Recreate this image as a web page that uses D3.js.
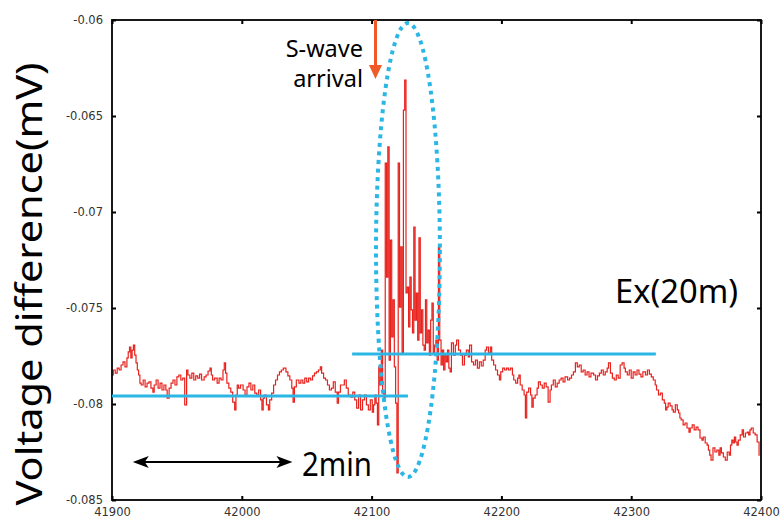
<!DOCTYPE html>
<html>
<head>
<meta charset="utf-8">
<script src="https://cdn.jsdelivr.net/npm/d3@7"></script>
<style>
	body { margin: 0; background: #fff; }
	svg { display: block; }
</style>
</head>
<body>
<script>
// axis ticks
var xTicks = [41900, 42000, 42100, 42200, 42300, 42400];
var xTickLabels = ["41900", "42000", "42100", "42200", "42300", "42400"];
var yTicks = [-0.06, -0.065, -0.07, -0.075, -0.08, -0.085];
var yTickLabels = ["-0.06", "-0.065", "-0.07", "-0.075", "-0.08", "-0.085"];

// Ex(20m) voltage difference [time (s), mV]
var preEvent = [
	[41900,-0.07849],[41902,-0.07823],[41903,-0.07839],[41905,-0.07813],[41906,-0.07823],[41908,-0.07797],[41909,-0.07781],[41911,-0.07807],
	[41912,-0.07760],[41913,-0.07729],[41914,-0.07703],[41915,-0.07760],[41916,-0.07719],[41917,-0.07693],[41918,-0.07745],[41919,-0.07786],
	[41920,-0.07823],[41921,-0.07849],[41922,-0.07891],[41923,-0.07901],[41925,-0.07875],[41926,-0.07911],[41928,-0.07891],[41929,-0.07885],
	[41931,-0.07917],[41932,-0.07938],[41933,-0.07901],[41935,-0.07875],[41936,-0.07917],[41938,-0.07891],[41939,-0.07927],[41941,-0.07901],
	[41942,-0.07927],[41943,-0.07969],[41945,-0.07917],[41946,-0.07891],[41948,-0.07875],[41949,-0.07901],[41951,-0.07859],[41952,-0.07849],
	[41954,-0.07875],[41955,-0.07865],[41957,-0.08005],[41958,-0.07823],[41959,-0.07849],[41961,-0.07865],[41962,-0.07839],[41964,-0.07875],
	[41965,-0.07854],[41967,-0.07865],[41968,-0.07844],[41970,-0.07875],[41972,-0.07859],[41973,-0.07849],[41975,-0.07828],[41976,-0.07813],
	[41977,-0.07849],[41978,-0.07875],[41980,-0.07865],[41982,-0.07891],[41983,-0.07865],[41985,-0.07875],[41986,-0.07823],[41987,-0.07786],
	[41988,-0.07839],[41989,-0.07891],[41991,-0.07917],[41992,-0.07938],[41994,-0.07990],[41995,-0.08031],[41996,-0.07953],[41997,-0.07901],
	[41998,-0.07917],[42000,-0.07901],[42002,-0.07927],[42003,-0.07953],[42005,-0.07911],[42006,-0.07891],[42008,-0.07927],[42009,-0.07901],
	[42011,-0.07943],[42012,-0.07953],[42014,-0.07927],[42015,-0.07979],[42016,-0.08031],[42017,-0.07969],[42018,-0.07953],[42020,-0.08005],
	[42021,-0.08031],[42022,-0.07979],[42024,-0.07943],[42025,-0.07901],[42027,-0.07875],[42028,-0.07849],[42030,-0.07833],[42031,-0.07823],
	[42033,-0.07813],[42035,-0.07833],[42036,-0.07854],[42038,-0.07875],[42039,-0.07917],[42040,-0.07990],[42041,-0.07911],[42043,-0.07875],
	[42045,-0.07891],[42046,-0.07875],[42048,-0.07891],[42049,-0.07865],[42051,-0.07885],[42052,-0.07865],[42054,-0.07875],[42055,-0.07854],
	[42057,-0.07839],[42058,-0.07833],[42060,-0.07823],[42061,-0.07807],[42062,-0.07839],[42064,-0.07865],[42065,-0.07875],[42067,-0.07901],
	[42068,-0.07927],[42070,-0.07917],[42071,-0.07885],[42073,-0.07938],[42074,-0.07995],[42075,-0.07938],[42077,-0.07901],[42078,-0.07901],
	[42080,-0.07875],[42081,-0.07917],[42083,-0.07953],[42085,-0.07964],[42086,-0.07938],[42088,-0.07979],[42089,-0.08021],[42091,-0.07953],
	[42092,-0.08031],[42094,-0.07979],[42095,-0.07953],[42097,-0.08005],[42098,-0.08031],[42100,-0.07979],[42101,-0.08042],[42102,-0.08005],
	[42103,-0.07953]
];
var quake = [
	[42104,-0.07995],[42105,-0.08109],[42106,-0.07807],[42107,-0.07901],[42108,-0.07719],[42109,-0.07943],[42110,-0.07969],[42111,-0.06745],
	[42112,-0.07339],[42113,-0.06661],[42114,-0.07771],[42115,-0.07146],[42116,-0.07651],[42117,-0.07458],[42118,-0.07807],[42119,-0.07995],
	[42120,-0.08359],[42121,-0.06745],[42122,-0.07495],[42123,-0.07182],[42124,-0.07734],[42125,-0.06469],[42126,-0.06313],[42127,-0.07422],
	[42128,-0.07391],[42129,-0.07599],[42130,-0.07339],[42131,-0.07510],[42132,-0.07630],[42133,-0.07078],[42134,-0.07563],[42135,-0.07422],
	[42136,-0.07667],[42137,-0.07135],[42138,-0.07630],[42139,-0.07510],[42140,-0.07693],[42141,-0.07719],[42142,-0.07458],[42143,-0.07682],
	[42144,-0.07615],[42145,-0.07745],[42146,-0.07563],[42147,-0.07474],[42148,-0.07734],[42149,-0.07693],[42150,-0.07667],[42151,-0.07771],
	[42152,-0.07182],[42153,-0.07667],[42154,-0.07797],[42155,-0.07719],[42156,-0.07823],[42157,-0.07745],[42158,-0.07781],[42159,-0.07719],
	[42160,-0.07813]
];
var postEvent = [
	[42161,-0.07833],[42162,-0.07682],[42164,-0.07745],[42165,-0.07693],[42166,-0.07667],[42168,-0.07719],[42169,-0.07745],[42171,-0.07797],
	[42172,-0.07745],[42174,-0.07719],[42175,-0.07755],[42176,-0.07693],[42178,-0.07781],[42179,-0.07797],[42181,-0.07771],[42182,-0.07813],
	[42184,-0.07781],[42185,-0.07802],[42187,-0.07771],[42188,-0.07719],[42189,-0.07703],[42191,-0.07734],[42192,-0.07703],[42193,-0.07771],
	[42195,-0.07797],[42196,-0.07823],[42198,-0.07849],[42199,-0.07875],[42200,-0.07833],[42202,-0.07813],[42203,-0.07823],[42205,-0.07813],
	[42206,-0.07823],[42208,-0.07813],[42209,-0.07849],[42210,-0.07875],[42212,-0.07891],[42213,-0.07865],[42214,-0.07849],[42215,-0.07901],
	[42217,-0.07927],[42218,-0.07953],[42219,-0.08073],[42220,-0.07938],[42222,-0.07917],[42223,-0.07953],[42224,-0.08016],[42225,-0.07969],
	[42227,-0.07953],[42228,-0.07917],[42229,-0.07885],[42231,-0.07901],[42232,-0.07917],[42234,-0.07891],[42235,-0.07911],[42237,-0.07990],
	[42238,-0.07927],[42239,-0.07901],[42241,-0.07875],[42242,-0.07911],[42244,-0.07891],[42245,-0.07875],[42247,-0.07865],[42248,-0.07885],
	[42250,-0.07859],[42252,-0.07875],[42253,-0.07865],[42255,-0.07849],[42256,-0.07833],[42258,-0.07786],[42259,-0.07807],[42261,-0.07797],
	[42262,-0.07833],[42264,-0.07823],[42265,-0.07849],[42267,-0.07833],[42268,-0.07859],[42270,-0.07839],[42272,-0.07849],[42273,-0.07875],
	[42275,-0.07854],[42276,-0.07839],[42278,-0.07823],[42279,-0.07849],[42281,-0.07833],[42282,-0.07813],[42283,-0.07786],[42285,-0.07839],
	[42286,-0.07865],[42288,-0.07875],[42289,-0.07849],[42291,-0.07865],[42292,-0.07797],[42294,-0.07786],[42295,-0.07813],[42296,-0.07833],
	[42298,-0.07849],[42299,-0.07823],[42301,-0.07865],[42302,-0.07833],[42304,-0.07849],[42305,-0.07823],[42307,-0.07844],[42308,-0.07859],
	[42310,-0.07833],[42312,-0.07849],[42313,-0.07823],[42315,-0.07844],[42316,-0.07859],[42318,-0.07875],[42319,-0.07901],[42320,-0.07927],
	[42322,-0.07953],[42323,-0.07943],[42325,-0.07979],[42326,-0.07995],[42327,-0.08031],[42328,-0.08016],[42329,-0.07995],[42331,-0.08010],
	[42332,-0.08031],[42333,-0.08042],[42335,-0.08005],[42336,-0.08031],[42337,-0.08047],[42338,-0.08073],[42339,-0.08083],[42341,-0.08109],
	[42342,-0.08099],[42344,-0.08125],[42345,-0.08146],[42346,-0.08125],[42348,-0.08109],[42349,-0.08135],[42351,-0.08120],[42352,-0.08135],
	[42354,-0.08177],[42355,-0.08188],[42356,-0.08172],[42358,-0.08203],[42359,-0.08214],[42360,-0.08240],[42361,-0.08266],[42362,-0.08292],
	[42364,-0.08229],[42365,-0.08250],[42367,-0.08240],[42368,-0.08266],[42369,-0.08229],[42370,-0.08255],[42372,-0.08276],[42373,-0.08292],
	[42375,-0.08250],[42376,-0.08266],[42377,-0.08214],[42378,-0.08188],[42379,-0.08203],[42380,-0.08172],[42381,-0.08198],[42382,-0.08214],
	[42383,-0.08188],[42385,-0.08161],[42386,-0.08135],[42387,-0.08172],[42389,-0.08151],[42390,-0.08146],[42391,-0.08161],[42392,-0.08135],
	[42393,-0.08125],[42395,-0.08151],[42396,-0.08161],[42398,-0.08198],[42399,-0.08266]
];

// annotations, in data units
var levelBefore = { from: 41900, to: 42128, mv: -0.07958 };
var levelAfter = { from: 42085, to: 42319, mv: -0.0774 };
var swaveTime = 42103;
var burst = { t: 42128, mv: -0.07198, dt: 24.6, dmv: 0.01182 };
var span2min = { from: 41916, to: 42039, mv: -0.08302 };

var width = 782, height = 520;
var margin = { top: 20, right: 21, bottom: 20, left: 112 };

var svg = d3.select("body").append("svg")
	.attr("width", width)
	.attr("height", height);

var x = d3.scaleLinear().domain([41900, 42400]).range([margin.left, width - margin.right]);
var y = d3.scaleLinear().domain([-0.085, -0.06]).range([height - margin.bottom, margin.top]);

// trace
var trace = preEvent.concat(quake, postEvent);
var line = d3.line()
	.x(function (d) { return x(d[0]); })
	.y(function (d) { return y(d[1]); })
	.curve(d3.curveStep);

svg.append("path")
	.datum(trace)
	.attr("fill", "none")
	.attr("stroke", "#e8231e")
	.attr("stroke-width", 1.2)
	.attr("d", line);

// axes, ticks pointing inward
var tickFont = "DejaVu Sans, sans-serif";
function styleAxis(g) {
	g.select(".domain").remove();
	g.selectAll(".tick line").attr("stroke", "#000").attr("stroke-width", 2);
	g.selectAll(".tick text").attr("fill", "#333").style("font-family", tickFont).style("font-size", "11.5px");
}

svg.append("g")
	.attr("transform", "translate(" + margin.left + ",0)")
	.call(d3.axisLeft(y).tickValues(yTicks).tickSize(-4).tickPadding(9)
		.tickFormat(function (d, i) { return yTickLabels[i]; }))
	.call(styleAxis);

svg.append("g")
	.attr("transform", "translate(" + (width - margin.right) + ",0)")
	.call(d3.axisRight(y).tickValues(yTicks).tickSize(-4).tickFormat(""))
	.call(styleAxis);

svg.append("g")
	.attr("transform", "translate(0," + (height - margin.bottom) + ")")
	.call(d3.axisBottom(x).tickValues(xTicks).tickSize(-4).tickPadding(8)
		.tickFormat(function (d, i) { return xTickLabels[i]; }))
	.call(styleAxis);

svg.append("g")
	.attr("transform", "translate(0," + margin.top + ")")
	.call(d3.axisTop(x).tickValues(xTicks).tickSize(-4).tickFormat(""))
	.call(styleAxis);

// frame
svg.append("rect")
	.attr("x", margin.left)
	.attr("y", margin.top)
	.attr("width", width - margin.left - margin.right)
	.attr("height", height - margin.top - margin.bottom)
	.attr("fill", "none")
	.attr("stroke", "#000")
	.attr("stroke-width", 1.8);

// mean levels before and after
var cyan = "#2bb7e6";
[levelBefore, levelAfter].forEach(function (l) {
	svg.append("line")
		.attr("x1", x(l.from)).attr("x2", x(l.to))
		.attr("y1", y(l.mv)).attr("y2", y(l.mv))
		.attr("stroke", cyan)
		.attr("stroke-width", 3);
});

// dotted ellipse round the burst
svg.append("ellipse")
	.attr("cx", x(burst.t))
	.attr("cy", y(burst.mv))
	.attr("rx", x(burst.t + burst.dt) - x(burst.t))
	.attr("ry", y(burst.mv - burst.dmv) - y(burst.mv))
	.attr("fill", "none")
	.attr("stroke", cyan)
	.attr("stroke-width", 4)
	.attr("stroke-dasharray", "4 4.5");

// S-wave arrival arrow
var orange = "#f05a28";
var ax = x(swaveTime);
svg.append("line")
	.attr("x1", ax).attr("x2", ax)
	.attr("y1", margin.top).attr("y2", 67)
	.attr("stroke", orange)
	.attr("stroke-width", 3);
svg.append("path")
	.attr("d", "M" + (ax - 6.5) + ",65 L" + (ax + 6.5) + ",65 L" + ax + ",79 Z")
	.attr("fill", orange);

var labelFont = "'Noto Sans', 'Open Sans', sans-serif";
svg.append("text")
	.attr("x", 363).attr("y", 57)
	.attr("text-anchor", "end")
	.style("font-family", labelFont).style("font-size", "23.5px")
	.text("S-wave");
svg.append("text")
	.attr("x", 363).attr("y", 87)
	.attr("text-anchor", "end")
	.style("font-family", labelFont).style("font-size", "23.5px")
	.text("arrival");

// 2 minute span
var sy = y(span2min.mv), sx1 = x(span2min.from), sx2 = x(span2min.to);
svg.append("line")
	.attr("x1", sx1 + 10).attr("x2", sx2 - 10)
	.attr("y1", sy).attr("y2", sy)
	.attr("stroke", "#000")
	.attr("stroke-width", 2);
svg.append("path")
	.attr("d", "M" + sx1 + "," + sy + " l16,-6 l-4,6 l4,6 Z")
	.attr("fill", "#000");
svg.append("path")
	.attr("d", "M" + sx2 + "," + sy + " l-16,-6 l4,6 l-4,6 Z")
	.attr("fill", "#000");

svg.append("text")
	.attr("x", 302).attr("y", 476)
	.attr("textLength", 70).attr("lengthAdjust", "spacingAndGlyphs")
	.style("font-family", labelFont).style("font-size", "33px")
	.text("2min");

svg.append("text")
	.attr("x", 615).attr("y", 303)
	.attr("textLength", 123).attr("lengthAdjust", "spacingAndGlyphs")
	.style("font-family", labelFont).style("font-size", "33px")
	.text("Ex(20m)");

// y axis title
svg.append("text")
	.attr("transform", "translate(42,284) rotate(-90)")
	.attr("text-anchor", "middle")
	.attr("textLength", 443).attr("lengthAdjust", "spacingAndGlyphs")
	.style("font-family", labelFont).style("font-size", "36px")
	.text("Voltage difference(mV)");
</script>
</body>
</html>
